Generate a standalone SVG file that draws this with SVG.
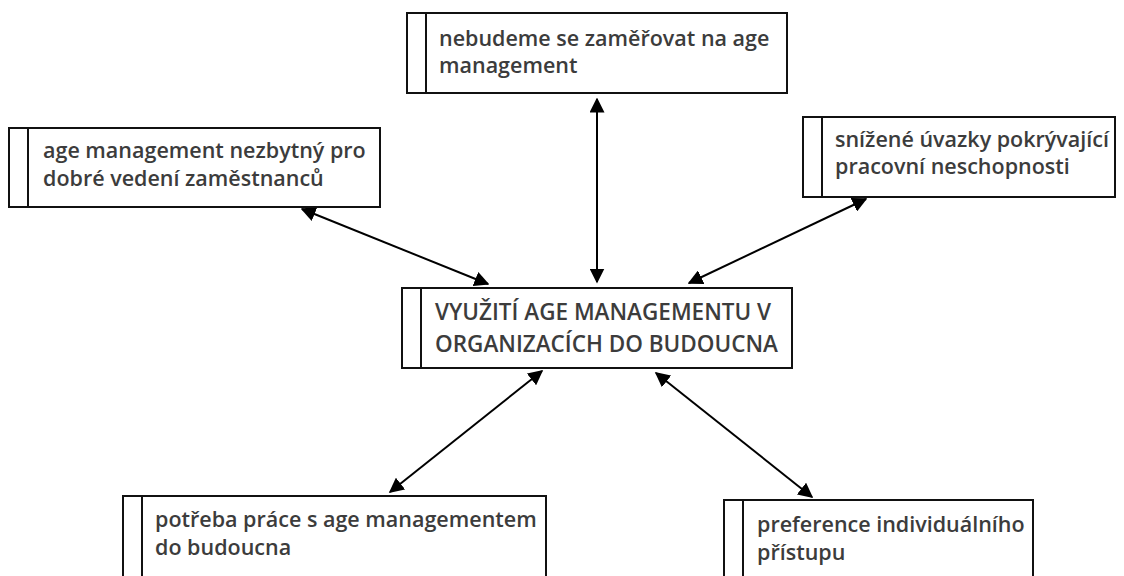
<svg xmlns="http://www.w3.org/2000/svg" width="1124" height="576" viewBox="0 0 1124 576">
<defs>
<style>
.box{fill:#fff;stroke:#111;stroke-width:2}
.div{stroke:#111;stroke-width:2}
.t{font-family:"Open Sans","Noto Sans",sans-serif;font-weight:600;font-size:21.5px;fill:#3c3c3c}
.tc{font-family:"Open Sans","Noto Sans",sans-serif;font-weight:600;font-size:22.5px;fill:#3c3c3c}
.c{stroke:#000;stroke-width:2;fill:none;marker-start:url(#a);marker-end:url(#a)}
</style>
<marker id="a" viewBox="0 0 10 10" refX="9" refY="5" markerWidth="7.5" markerHeight="7.5" orient="auto-start-reverse" markerUnits="strokeWidth">
<path d="M0,0 L10,5 L0,10 z" fill="#000"/>
</marker>
</defs>
<rect width="1124" height="576" fill="#fff"/>
<g id="connectors">
<line class="c" x1="597" y1="99" x2="597" y2="282"/>
<line class="c" x1="302" y1="209" x2="488" y2="284"/>
<line class="c" x1="866" y1="199" x2="689" y2="283"/>
<line class="c" x1="542" y1="371" x2="390" y2="492"/>
<line class="c" x1="656" y1="373" x2="812" y2="497"/>
</g>
<g id="top">
<rect class="box" x="407" y="13" width="380" height="80"/>
<line class="div" x1="426" y1="13" x2="426" y2="93"/>
<text class="t" x="439" y="46">nebudeme se zaměřovat na age</text>
<text class="t" x="439" y="73">management</text>
</g>
<g id="left">
<rect class="box" x="9" y="128" width="371" height="79"/>
<line class="div" x1="28" y1="128" x2="28" y2="207"/>
<text class="t" x="43" y="158">age management nezbytný pro</text>
<text class="t" x="43" y="186">dobré vedení zaměstnanců</text>
</g>
<g id="right">
<rect class="box" x="803" y="117" width="312" height="80"/>
<line class="div" x1="822" y1="117" x2="822" y2="197"/>
<text class="t" x="835" y="147">snížené úvazky pokrývající</text>
<text class="t" x="835" y="174">pracovní neschopnosti</text>
</g>
<g id="center">
<rect class="box" x="402" y="288" width="390" height="80"/>
<line class="div" x1="421" y1="288" x2="421" y2="368"/>
<text class="tc" x="435" y="320">VYUŽITÍ AGE MANAGEMENTU V</text>
<text class="tc" x="435" y="352">ORGANIZACÍCH DO BUDOUCNA</text>
</g>
<g id="bottom-left">
<rect class="box" x="123" y="496" width="423" height="90"/>
<line class="div" x1="142" y1="496" x2="142" y2="586"/>
<text class="t" x="155" y="527">potřeba práce s age managementem</text>
<text class="t" x="155" y="555">do budoucna</text>
</g>
<g id="bottom-right">
<rect class="box" x="724" y="500" width="309" height="90"/>
<line class="div" x1="743" y1="500" x2="743" y2="590"/>
<text class="t" x="757" y="532">preference individuálního</text>
<text class="t" x="757" y="560">přístupu</text>
</g>
</svg>
